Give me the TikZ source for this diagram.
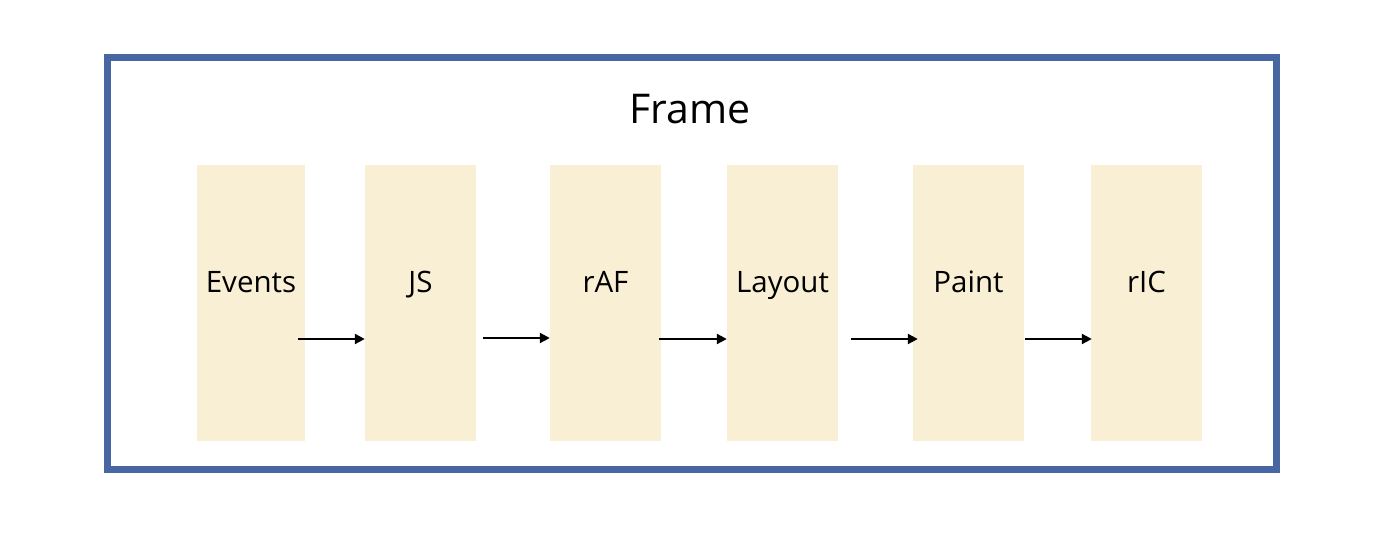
\documentclass[tikz,border=0pt]{standalone}
\usepackage{fontspec}
\setmainfont{Open Sans}
\usetikzlibrary{arrows.meta}
\definecolor{cream}{HTML}{F8EFD4}
\definecolor{frameblue}{HTML}{4867A2}
\begin{document}
\begin{tikzpicture}[x=1pt,y=-1pt,
  stage/.style={fill=cream, draw=none, inner sep=0pt, minimum height=276pt},
  label/.style={anchor=base, inner sep=0pt, font=\fontsize{29.5}{34}\selectfont},
  flow/.style={-{Triangle[length=10pt,width=10pt]}, line width=2.2pt, black}]
\useasboundingbox (0,0) rectangle (1400,548);
\node[draw=frameblue, line width=7pt, minimum width=1169pt, minimum height=412pt, inner sep=0pt] (frame) at (692,263.5) {};
\node[anchor=base, inner sep=0pt, font=\fontsize{41}{46}\selectfont] (title) at (690,124) {Frame};
\node[stage, minimum width=108pt] (ev) at (251,303) {};
\node[stage, minimum width=111pt] (js) at (420.5,303) {};
\node[stage, minimum width=111pt] (raf) at (605.5,303) {};
\node[stage, minimum width=111pt] (lay) at (782.5,303) {};
\node[stage, minimum width=111pt] (pnt) at (968.5,303) {};
\node[stage, minimum width=111pt] (ric) at (1146.5,303) {};
\node[label] (tev) at (251,292) {Events};
\node[label] (tjs) at (420.5,292) {JS};
\node[label] (traf) at (605.5,292) {rAF};
\node[label] (tlay) at (782.5,292) {Layout};
\node[label] (tpnt) at (968.5,292) {Paint};
\node[label] (tric) at (1146.5,292) {rIC};
\draw[flow] ([xshift=-7pt]ev.east |- 0,339) -- (js.west |- 0,339);
\draw[flow] ([xshift=7pt]js.east |- 0,338) -- (raf.west |- 0,338);
\draw[flow] ([xshift=-2pt]raf.east |- 0,339) -- (lay.west |- 0,339);
\draw[flow] ([xshift=13pt]lay.east |- 0,339) -- ([xshift=5pt]pnt.west |- 0,339);
\draw[flow] ([xshift=1pt]pnt.east |- 0,339) -- ([xshift=1pt]ric.west |- 0,339);
\end{tikzpicture}
\end{document}
